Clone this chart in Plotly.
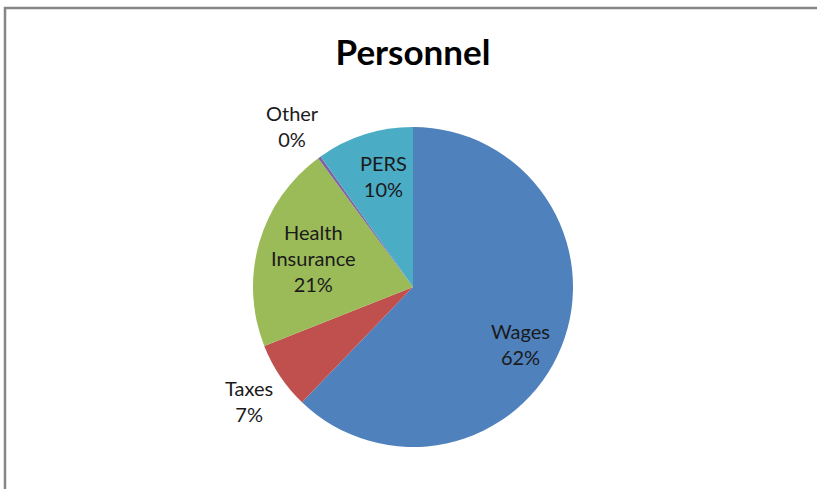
import math
import plotly.graph_objects as go

categories = ["Wages", "Taxes", "Health Insurance", "Other", "PERS"]
display_names = ["Wages", "Taxes", "Health<br>Insurance", "Other", "PERS"]
values = [62.2, 6.8, 20.9, 0.3, 9.8]
colors = ["#4F81BD", "#C0504D", "#9BBB59", "#8064A2", "#4BACC6"]
# label placement (styling): radial distance as fraction of radius, angular nudge in degrees
label_radius = [0.76, 1.25, 0.65, 1.26, 0.72]
label_shift = [6, -1, 0, -1, 3]

W, H = 817, 489
cx, cy, r = 413, 287, 160

fig = go.Figure(go.Pie(
    labels=categories,
    values=values,
    textinfo="none",
    sort=False,
    direction="clockwise",
    rotation=0,
    marker=dict(colors=colors, line=dict(width=0)),
    domain=dict(x=[(cx - r) / W, (cx + r) / W], y=[1 - (cy + r) / H, 1 - (cy - r) / H]),
    showlegend=False,
    hoverinfo="label+percent",
))

total = sum(values)
annotations = []
cum = 0.0
for name, v, rf, sh in zip(display_names, values, label_radius, label_shift):
    mid = (cum + v / 2) / total * 360 + sh
    cum += v
    a = math.radians(mid)
    px = cx + rf * r * math.sin(a)
    py = cy - rf * r * math.cos(a)
    pct = round(v / total * 100)
    annotations.append(dict(
        x=px / W, y=1 - py / H, xref="paper", yref="paper",
        text=f"{name}<br>{pct}%", showarrow=False,
        xanchor="center", yanchor="middle", align="center",
        font=dict(family="Lato", size=20, color="#1a1a1a"),
    ))

fig.update_layout(
    width=W, height=H,
    margin=dict(l=0, r=0, t=0, b=0),
    paper_bgcolor="white",
    title=dict(text="<b>Personnel</b>", x=413 / W, xanchor="center", y=1 - 53 / H, yanchor="middle",
               font=dict(family="Lato", size=35, color="black")),
    annotations=annotations,
    shapes=[dict(type="rect", xref="paper", yref="paper",
                 x0=5 / W, x1=1.05, y0=-0.05, y1=1 - 8 / H,
                 line=dict(color="#868686", width=2.5))],
)

fig.write_html("out.html")
